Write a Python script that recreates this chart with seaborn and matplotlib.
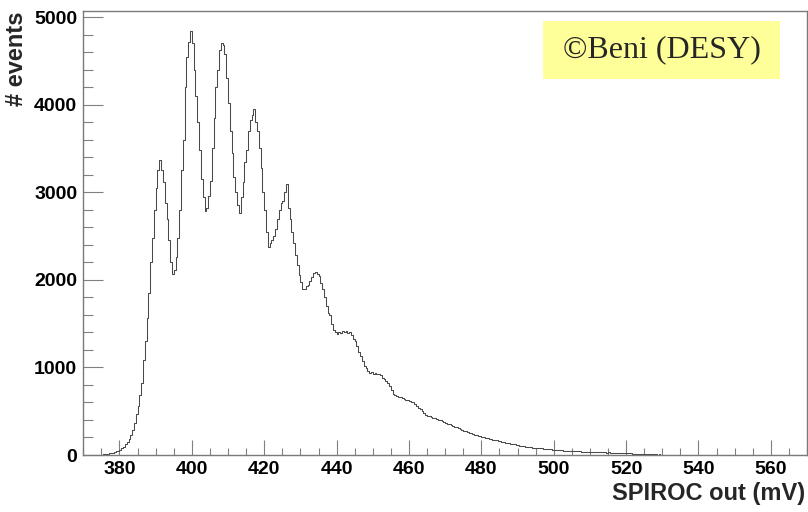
import numpy as np
import pandas as pd
import matplotlib
matplotlib.use("Agg")
import matplotlib.pyplot as plt
from matplotlib.ticker import MultipleLocator
from matplotlib.patches import Rectangle
import seaborn as sns

# ---- data: 0.5 mV bins from 370 to 570 mV (one row = 5 mV) ----
bin_width = 0.5
bin_low = np.arange(370, 570, bin_width)
counts = [
    0, 0, 0, 0, 0, 0, 0, 1, 2, 3,
    4, 6, 8, 14, 18, 24, 28, 34, 40, 48,
    57, 75, 95, 120, 145, 180, 230, 290, 370, 470,
    560, 690, 820, 1080, 1300, 1560, 1850, 2200, 2480, 2800,
    3050, 3250, 3370, 3250, 3120, 2880, 2700, 2450, 2200, 2070,
    2110, 2260, 2480, 2800, 3250, 3600, 4200, 4550, 4720, 4840,
    4700, 4400, 4100, 3800, 3480, 3150, 2950, 2790, 2820, 2960,
    3130, 3500, 3850, 4200, 4400, 4620, 4700, 4680, 4580, 4300,
    4020, 3700, 3450, 3180, 3000, 2850, 2760, 2950, 3120, 3350,
    3480, 3700, 3820, 3880, 3950, 3800, 3700, 3500, 3280, 3000,
    2800, 2550, 2370, 2420, 2460, 2500, 2580, 2700, 2800, 2880,
    2900, 3000, 3100, 2820, 2700, 2550, 2420, 2280, 2170, 2050,
    1980, 1890, 1900, 1930, 1940, 1990, 2030, 2080, 2090, 2070,
    2040, 1960, 1900, 1800, 1700, 1620, 1600, 1500, 1430, 1400,
    1380, 1400, 1390, 1420, 1400, 1420, 1390, 1410, 1370, 1330,
    1300, 1250, 1180, 1130, 1070, 1020, 990, 960, 940, 950,
    920, 940, 930, 920, 910, 880, 870, 850, 820, 790,
    740, 700, 690, 670, 660, 660, 650, 640, 630, 625,
    615, 605, 600, 580, 560, 540, 525, 500, 480, 460,
    450, 440, 435, 425, 420, 415, 405, 395, 385, 375,
    365, 358, 352, 345, 335, 325, 315, 305, 295, 285,
    278, 272, 264, 256, 248, 242, 234, 226, 222, 218,
    208, 202, 198, 192, 186, 180, 175, 169, 167, 162,
    158, 152, 148, 142, 138, 132, 128, 122, 120, 116,
    110, 106, 102, 98, 96, 94, 90, 86, 85, 83,
    81, 79, 77, 75, 73, 71, 69, 67, 64, 62,
    59, 57, 56, 54, 53, 51, 50, 48, 47, 45,
    45, 43, 43, 41, 41, 39, 39, 37, 37, 35,
    36, 34, 34, 32, 32, 30, 31, 29, 30, 28,
    29, 27, 28, 26, 27, 25, 25, 23, 23, 21,
    21, 19, 19, 17, 17, 15, 15, 13, 13, 11,
    11, 9, 9, 7, 8, 6, 7, 5, 6, 4,
    5, 3, 4, 3, 3, 2, 2, 2, 2, 1,
    1, 1, 1, 1, 1, 0, 0, 0, 0, 0,
    0, 0, 0, 0, 0, 0, 0, 0, 0, 0,
    0, 0, 0, 0, 0, 0, 0, 0, 0, 0,
    0, 0, 0, 0, 0, 0, 0, 0, 0, 0,
    0, 0, 0, 0, 0, 0, 0, 0, 0, 0,
    0, 0, 0, 0, 0, 0, 0, 0, 0, 0,
    0, 0, 0, 0, 0, 0, 0, 0, 0, 0,
]
x_label = "SPIROC out (mV)"
y_label = "# events"
note = "\u00a9Beni (DESY)"

sns.set_style("white")
plt.rcParams["font.family"] = ["Liberation Sans", "DejaVu Sans"]

fig = plt.figure(figsize=(8.08, 5.12), dpi=100)
ax = fig.add_axes([83.3 / 808, 1 - 455 / 512, (807 - 83.3) / 808, (455 - 11) / 512])

df = pd.DataFrame({"mv": bin_low + bin_width / 2,
                   "n": np.asarray(counts, dtype=float)})
sns.histplot(data=df, x="mv", weights="n", binwidth=bin_width,
             binrange=(370, 570), element="step", fill=False,
             color="#4a4a4a", linewidth=0.75, ax=ax)

ax.set_xlim(370, 570)
ax.set_ylim(0, 5070)

ax.xaxis.set_major_locator(MultipleLocator(20))
ax.xaxis.set_minor_locator(MultipleLocator(5))
ax.yaxis.set_major_locator(MultipleLocator(1000))
ax.yaxis.set_minor_locator(MultipleLocator(200))

ax.tick_params(axis="both", which="both", direction="in", color="#808080",
               width=0.8, top=False, right=False, bottom=True, left=True)
ax.tick_params(axis="x", which="major", length=10.8, pad=4.3)
ax.tick_params(axis="x", which="minor", length=5.0)
ax.tick_params(axis="y", which="major", length=14.4, pad=4.3)
ax.tick_params(axis="y", which="minor", length=7.2)

for lab in ax.get_xticklabels() + ax.get_yticklabels():
    lab.set_fontsize(14)
    lab.set_fontweight("bold")
    lab.set_color("black")

for sp in ax.spines.values():
    sp.set_visible(True)
    sp.set_color("#7a7a7a")
    sp.set_linewidth(1.0)

ax.set_xlabel(x_label, fontsize=17, fontweight="bold", loc="right")
ax.set_ylabel(y_label, fontsize=17, fontweight="bold", loc="top")
ax.xaxis.set_label_coords((805 - 83.3) / 723.7, (455 - 482) / 444)
ax.yaxis.set_label_coords((28 - 83.3) / 723.7, 1.0)

fig.patches.append(Rectangle((543 / 808, 1 - 79 / 512), 237 / 808, 58 / 512,
                             transform=fig.transFigure, facecolor="#ffff99",
                             edgecolor="none", zorder=5))
fig.text(661.5 / 808, 1 - 50 / 512, note, ha="center", va="center",
         fontsize=23, family=["Liberation Serif", "DejaVu Serif"], zorder=6)

fig.savefig("out.png", dpi=100)
